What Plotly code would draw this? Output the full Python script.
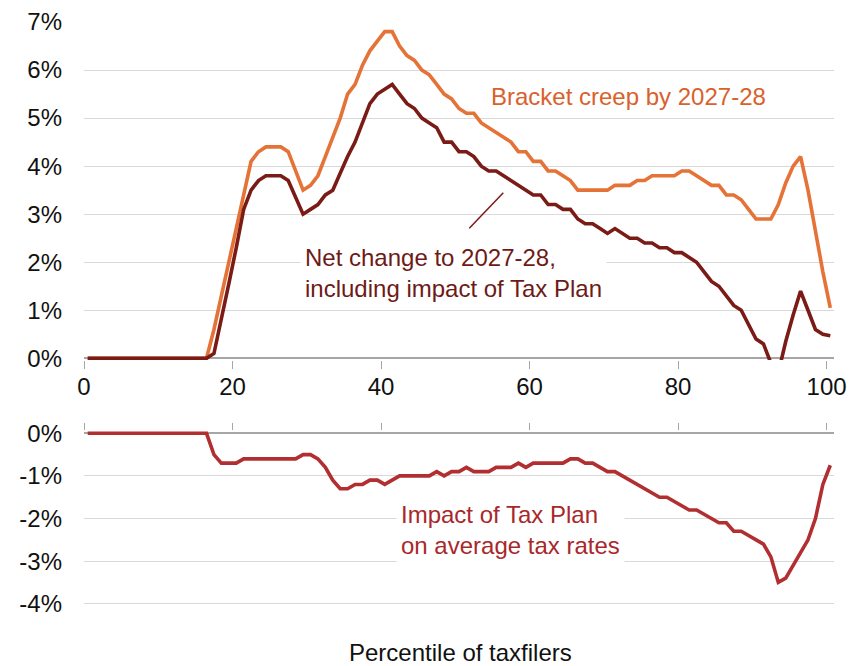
import plotly.graph_objects as go

# ---------------- data ----------------
percentile = [i + 0.5 for i in range(101)]

bracket_creep = [
    0, 0, 0, 0, 0, 0, 0, 0, 0, 0,
    0, 0, 0, 0, 0, 0, 0, 0.6, 1.3, 2.0,
    2.7, 3.4, 4.1, 4.3, 4.4, 4.4, 4.4, 4.3, 3.9, 3.5,
    3.6, 3.8, 4.2, 4.6, 5.0, 5.5, 5.7, 6.1, 6.4, 6.6,
    6.8, 6.8, 6.5, 6.3, 6.2, 6.0, 5.9, 5.7, 5.5, 5.4,
    5.2, 5.1, 5.1, 4.9, 4.8, 4.7, 4.6, 4.5, 4.3, 4.3,
    4.1, 4.1, 3.9, 3.9, 3.8, 3.7, 3.5, 3.5, 3.5, 3.5,
    3.5, 3.6, 3.6, 3.6, 3.7, 3.7, 3.8, 3.8, 3.8, 3.8,
    3.9, 3.9, 3.8, 3.7, 3.6, 3.6, 3.4, 3.4, 3.3, 3.1,
    2.9, 2.9, 2.9, 3.2, 3.65, 4.0, 4.2, 3.5, 2.6, 1.8,
    1.05,
]

net_change = [
    0, 0, 0, 0, 0, 0, 0, 0, 0, 0,
    0, 0, 0, 0, 0, 0, 0, 0.1, 0.8, 1.55,
    2.3, 3.1, 3.5, 3.7, 3.8, 3.8, 3.8, 3.7, 3.35, 3.0,
    3.1, 3.2, 3.4, 3.5, 3.85, 4.2, 4.5, 4.9, 5.3, 5.5,
    5.6, 5.7, 5.5, 5.3, 5.2, 5.0, 4.9, 4.8, 4.5, 4.5,
    4.3, 4.3, 4.2, 4.0, 3.9, 3.9, 3.8, 3.7, 3.6, 3.5,
    3.4, 3.4, 3.2, 3.2, 3.1, 3.1, 2.9, 2.8, 2.8, 2.7,
    2.6, 2.7, 2.6, 2.5, 2.5, 2.4, 2.4, 2.3, 2.3, 2.2,
    2.2, 2.1, 2.0, 1.8, 1.6, 1.5, 1.3, 1.1, 1.0, 0.7,
    0.4, 0.3, -0.1, -0.3, 0.35, 0.9, 1.4, 1.0, 0.6, 0.5,
    0.47,
]

tax_plan_impact = [
    0, 0, 0, 0, 0, 0, 0, 0, 0, 0,
    0, 0, 0, 0, 0, 0, 0, -0.5, -0.7, -0.7,
    -0.7, -0.6, -0.6, -0.6, -0.6, -0.6, -0.6, -0.6, -0.6, -0.5,
    -0.5, -0.6, -0.8, -1.1, -1.3, -1.3, -1.2, -1.2, -1.1, -1.1,
    -1.2, -1.1, -1.0, -1.0, -1.0, -1.0, -1.0, -0.9, -1.0, -0.9,
    -0.9, -0.8, -0.9, -0.9, -0.9, -0.8, -0.8, -0.8, -0.7, -0.8,
    -0.7, -0.7, -0.7, -0.7, -0.7, -0.6, -0.6, -0.7, -0.7, -0.8,
    -0.9, -0.9, -1.0, -1.1, -1.2, -1.3, -1.4, -1.5, -1.5, -1.6,
    -1.7, -1.8, -1.8, -1.9, -2.0, -2.1, -2.1, -2.3, -2.3, -2.4,
    -2.5, -2.6, -2.9, -3.5, -3.4, -3.1, -2.8, -2.5, -2.0, -1.2,
    -0.75,
]

x_ticks = [0, 20, 40, 60, 80, 100]
x_tick_labels = ["0", "20", "40", "60", "80", "100"]
top_y_ticks = [0, 1, 2, 3, 4, 5, 6, 7]
top_y_labels = ["0%", "1%", "2%", "3%", "4%", "5%", "6%", "7%"]
bottom_y_ticks = [0, -1, -2, -3, -4]
bottom_y_labels = ["0%", "-1%", "-2%", "-3%", "-4%"]

# ---------------- style ----------------
W, H = 852, 666
ML, MR, MT, MB = 84, 18, 22, 61
PW, PH = W - ML - MR, H - MT - MB
FONT = "Liberation Sans, Arial, sans-serif"
ORANGE = "#E57236"
ORANGE_TXT = "#D9612C"
DARK = "#7A1B16"
DARK_TXT = "#6E1A17"
RED = "#B22F31"
RED_TXT = "#A8282C"
GRID = "#D9D9D9"
AXIS = "#A6A6A6"


def fx(px):
    return (px - ML) / PW


def fy(py):
    return (MT + PH - py) / PH


fig = go.Figure()
fig.add_trace(go.Scatter(x=percentile, y=bracket_creep, mode="lines",
                         line=dict(color=ORANGE, width=3.6),
                         xaxis="x", yaxis="y", hoverinfo="skip"))
fig.add_trace(go.Scatter(x=percentile, y=net_change, mode="lines",
                         line=dict(color=DARK, width=3.6),
                         xaxis="x", yaxis="y", hoverinfo="skip"))
fig.add_trace(go.Scatter(x=percentile, y=tax_plan_impact, mode="lines",
                         line=dict(color=RED, width=3.6),
                         xaxis="x2", yaxis="y2", hoverinfo="skip"))

tickfont = dict(family=FONT, size=24, color="#111111")

fig.update_layout(
    width=W, height=H,
    margin=dict(l=ML, r=MR, t=MT, b=MB, autoexpand=False),
    paper_bgcolor="white", plot_bgcolor="white",
    showlegend=False,
    font=dict(family=FONT, size=24, color="#111111"),
    xaxis=dict(domain=[0, 1], anchor="y", range=[0, 101], automargin=False,
               tickvals=x_ticks, ticktext=x_tick_labels,
               ticks="outside", ticklen=8, tickwidth=1, tickcolor=AXIS,
               showgrid=False, showline=False, zeroline=False,
               tickfont=tickfont, ticklabelstandoff=-3),
    yaxis=dict(domain=[fy(360.0), 1], anchor="x", range=[-0.035, 7],
               automargin=False,
               tickvals=top_y_ticks, ticktext=top_y_labels,
               ticks="", showgrid=True, gridcolor=GRID, gridwidth=1,
               zeroline=True, zerolinecolor=AXIS, zerolinewidth=1.5,
               showline=False, tickfont=tickfont, ticklabelstandoff=21),
    xaxis2=dict(domain=[0, 1], anchor="y2", side="top", range=[0, 101],
                automargin=False,
                tickvals=x_ticks, showticklabels=False,
                ticks="outside", ticklen=7, tickwidth=1, tickcolor=AXIS,
                showgrid=False, showline=False, zeroline=False),
    yaxis2=dict(domain=[0, fy(430.75)], anchor="x2", range=[-4.03, 0.06],
                automargin=False,
                tickvals=bottom_y_ticks, ticktext=bottom_y_labels,
                ticks="", showgrid=True, gridcolor=GRID, gridwidth=1,
                zeroline=True, zerolinecolor=AXIS, zerolinewidth=1.5,
                showline=False, tickfont=tickfont, ticklabelstandoff=21),
)

annotations = [
    dict(text="Bracket creep by 2027-28", x=fx(489), y=fy(96.5),
         xanchor="left", yanchor="middle", showarrow=False,
         font=dict(family=FONT, size=24, color=ORANGE_TXT)),
    dict(text="Net change to 2027-28,<br>including impact of Tax Plan",
         x=fx(300), y=fy(273), xanchor="left", yanchor="middle", align="left",
         showarrow=False, bgcolor="white", borderpad=4,
         font=dict(family=FONT, size=24, color=DARK_TXT)),
    dict(text="Impact of Tax Plan<br>on average tax rates",
         x=fx(396), y=fy(529.5), xanchor="left", yanchor="middle", align="left",
         showarrow=False, bgcolor="white", borderpad=4,
         font=dict(family=FONT, size=24, color=RED_TXT)),
    dict(text="Percentile of taxfilers", x=fx(460.5), y=fy(652.5),
         xanchor="center", yanchor="middle", showarrow=False,
         font=dict(family=FONT, size=24, color="#111111")),
]
for a in annotations:
    a.update(xref="paper", yref="paper")
fig.update_layout(annotations=annotations)

fig.add_shape(type="line", xref="paper", yref="paper",
              x0=fx(469.3), y0=fy(228.3), x1=fx(503.3), y1=fy(192.7),
              line=dict(color=DARK, width=1.5))

fig.write_html("out.html",
               config={"displayModeBar": False},
               post_script="document.body.style.margin='0';"
                           "document.body.style.overflow='hidden';")
